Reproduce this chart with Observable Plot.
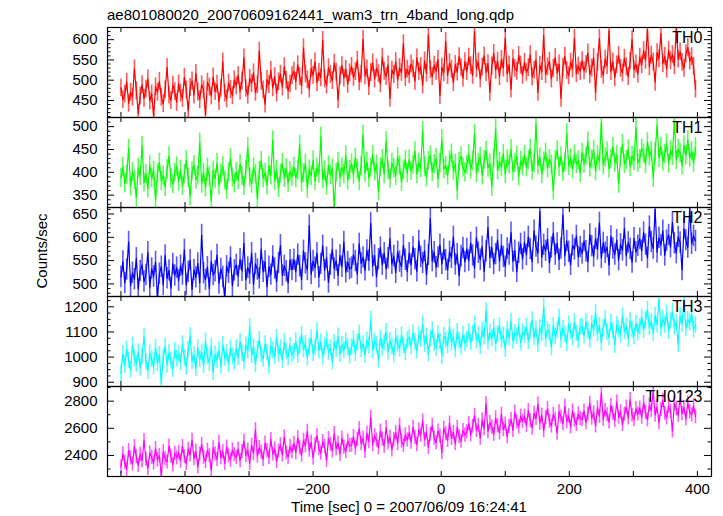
<!DOCTYPE html>
<html><head><meta charset="utf-8">
<script src="https://cdn.jsdelivr.net/npm/d3@7"></script>
<script src="https://cdn.jsdelivr.net/npm/@observablehq/plot@0.6"></script>
<style>
body{margin:0;background:#fff;}
#chart{position:relative;width:723px;height:516px;background:#fff;font-family:"Liberation Sans",Arial,Helvetica,sans-serif;}
#chart svg{position:absolute;left:0;overflow:visible;}
</style></head><body><div id="chart"></div>
<script>
const title = "ae801080020_20070609162441_wam3_trn_4band_long.qdp";
const xLabel = "Time [sec] 0 = 2007/06/09 16:24:41";
const yLabel = "Counts/sec";
const panelNames = ["TH0", "TH1", "TH2", "TH3", "TH0123"];
const panelColors = ["#ff0000", "#00ff00", "#0000ff", "#00ffff", "#ff00ff"];
const binStart = -500, binWidth = 3;

const th0 = [
481,452,466,495,443,470,458,528,474,418,461,489,455,478,503,449,466,412,484,470,497,458,442,476,531,463,450,488,472,445,
491,468,455,507,476,425,482,498,463,517,471,452,489,476,415,495,483,461,508,472,490,447,480,545,468,454,493,477,462,501,
486,512,473,498,555,480,463,505,492,518,470,488,572,497,476,441,502,489,524,481,509,468,496,515,483,533,500,474,491,511,
522,497,538,509,486,580,515,501,478,529,512,545,494,519,506,598,503,488,531,514,499,542,520,452,511,536,505,527,490,518,
534,507,521,549,496,515,601,511,528,484,519,543,503,530,516,491,557,522,509,538,455,525,514,546,500,531,519,590,506,527,
513,540,528,497,555,521,534,488,548,517,612,526,509,537,522,551,462,532,518,596,511,543,527,494,539,520,558,531,505,546,
521,557,536,512,620,528,545,503,533,560,519,541,470,535,566,524,547,509,551,530,604,516,538,478,553,529,522,561,537,512,
544,519,531,563,508,525,550,470,537,521,610,514,533,547,503,529,556,518,540,455,532,559,524,511,545,528,603,516,535,522,
548,523,539,567,514,530,556,470,543,603,527,512,552,536,622,521,545,506,538,561,529,518,554,533,509,547,600,526,540,515,
557,538,573,549,625,533,562,545,495,568,553,615,541,559,527,574,548,563,536,628,552,570,544,529,565,581,547,558,534,478
];
const th1 = [
388,412,376,395,452,369,401,384,345,409,392,458,378,396,365,415,387,403,340,398,421,381,393,368,407,435,386,374,399,413,
380,405,371,396,427,388,348,402,416,384,393,465,375,399,367,410,391,338,404,386,420,372,397,413,382,362,400,431,389,376,
401,383,418,392,370,406,455,389,375,411,396,342,403,425,387,399,372,414,393,470,381,405,366,397,420,388,409,377,402,390,
412,387,404,460,378,398,419,364,406,392,426,381,410,397,478,385,403,371,415,394,408,322,399,423,388,411,396,437,383,405,
419,395,432,407,381,414,482,399,423,388,410,438,402,417,358,411,429,396,468,405,386,421,409,392,433,415,379,406,427,398,
428,403,417,446,396,421,409,490,412,389,425,437,401,418,431,385,420,472,407,414,393,426,441,404,419,360,423,435,411,400,
416,439,407,425,484,398,421,434,393,427,447,410,419,368,431,495,405,423,412,440,396,428,417,451,402,420,436,391,425,413,
438,411,427,452,404,420,505,415,433,396,424,443,409,429,417,360,426,448,412,435,401,421,485,414,430,407,439,418,426,398,
443,419,435,468,411,428,449,402,437,424,508,416,432,446,408,429,455,421,438,375,433,462,418,427,450,412,436,425,498,420,
429,452,441,418,466,435,447,388,444,503,431,456,424,440,463,419,448,436,512,427,451,442,415,459,437,470,432,446,421,455
];
const th2 = [
515,548,502,531,590,496,524,510,555,489,528,541,505,519,568,493,533,516,547,470,522,537,498,561,512,529,491,543,518,535,
507,539,520,573,498,526,551,488,530,514,544,502,605,523,509,536,490,548,519,527,562,501,532,515,468,538,524,557,496,529,
541,516,553,528,587,509,535,522,566,499,543,531,512,575,526,548,494,537,520,559,533,505,545,583,518,539,527,502,551,530,
552,526,563,538,509,571,544,530,625,521,549,535,566,514,543,582,529,556,503,541,574,533,550,518,561,537,590,525,547,532,
535,563,549,521,586,544,557,529,572,550,630,538,561,515,553,578,541,566,532,555,597,543,560,524,569,548,537,583,552,527,
566,541,579,553,527,592,558,545,571,520,562,640,549,568,536,557,584,543,574,551,530,569,556,601,542,564,518,560,577,547,
575,550,588,561,534,599,567,552,580,527,570,621,556,578,543,564,594,549,583,558,537,576,563,610,548,571,526,567,586,553,
589,562,601,575,548,614,580,566,655,557,584,571,596,545,578,609,563,587,552,576,648,560,592,569,541,583,574,603,558,579,
565,592,570,547,606,581,559,597,574,631,556,588,567,579,540,602,576,563,594,551,585,572,619,560,589,575,546,598,568,582,
597,571,610,584,556,623,590,576,660,568,599,583,614,561,593,605,579,632,587,566,601,589,530,618,594,578,662,586,603,592
];
const th3 = [
935,1012,968,1031,987,949,1046,995,972,1020,958,1003,1080,981,944,1015,990,963,1038,976,1009,895,998,1043,969,1017,986,952,1025,993,
1013,978,1052,997,961,1029,1085,984,1008,955,1036,991,1019,968,1063,1002,976,1041,940,1011,988,1027,964,1049,995,1016,972,1034,1001,982,
1036,998,1061,1015,983,1048,1024,1120,1007,1040,971,1029,1069,1011,993,1052,1018,965,1044,1026,1003,1077,1013,1035,988,1058,1021,999,1046,1009,
1022,1064,1008,1047,1089,1030,1053,997,1041,1076,1015,1038,1105,1026,1059,1001,1044,1070,1019,1036,982,1057,1031,1083,1012,1049,1027,1066,1040,1005,
1039,1071,1015,1058,1094,1030,1052,1007,1066,1045,1150,1027,1062,1049,990,1075,1036,1057,1101,1021,1064,1043,1009,1080,1053,1032,1088,1047,1018,1068,
1078,1042,1096,1061,1025,1087,1070,1131,1051,1082,1013,1074,1108,1056,1035,1092,1063,1004,1085,1067,1046,1119,1058,1079,1029,1101,1066,1040,1089,1055,
1070,1102,1058,1093,1131,1066,1089,1044,1107,1081,1185,1062,1098,1075,1117,1053,1091,1124,1069,1086,1032,1110,1079,1142,1064,1096,1083,1120,1057,1100,
1087,1121,1063,1104,1147,1079,1111,1050,1116,1093,1200,1072,1108,1097,1038,1125,1083,1106,1158,1069,1114,1091,1055,1130,1101,1078,1139,1095,1066,1119,
1121,1085,1140,1104,1069,1132,1113,1176,1094,1125,1057,1116,1152,1099,1078,1137,1106,1048,1128,1111,1089,1163,1101,1122,1072,1145,1109,1083,1134,1097,
1122,1158,1107,1146,1189,1118,1141,1096,1165,1130,1230,1113,1152,1127,1174,1103,1144,1180,1121,1138,1050,1163,1132,1220,1115,1149,1136,1171,1109,1128
];
const th0123 = [
2315,2412,2350,2298,2436,2381,2337,2465,2390,2326,2408,2361,2510,2372,2305,2419,2386,2343,2451,2368,2399,2250,2427,2376,2352,2470,2395,2331,2416,2383,
2421,2358,2467,2392,2339,2445,2403,2512,2376,2430,2316,2409,2481,2387,2354,2438,2399,2291,2456,2412,2371,2497,2384,2427,2342,2462,2396,2365,2441,2406,
2385,2447,2362,2428,2506,2401,2439,2341,2475,2413,2590,2395,2458,2424,2370,2491,2436,2384,2518,2411,2449,2356,2432,2479,2403,2537,2420,2388,2465,2427,
2489,2421,2530,2456,2403,2511,2472,2578,2438,2497,2382,2479,2545,2451,2417,2503,2466,2364,2524,2483,2434,2562,2449,2492,2410,2528,2461,2428,2507,2473,
2476,2539,2454,2518,2597,2487,2526,2430,2563,2501,2680,2479,2545,2512,2458,2580,2521,2469,2606,2494,2534,2441,2517,2568,2488,2623,2505,2473,2552,2514,
2566,2498,2607,2533,2480,2588,2549,2655,2515,2574,2459,2556,2622,2528,2494,2580,2543,2420,2601,2560,2511,2639,2526,2569,2487,2605,2538,2505,2584,2550,
2573,2636,2551,2615,2694,2584,2623,2527,2660,2598,2780,2576,2642,2609,2555,2677,2618,2566,2703,2591,2631,2538,2614,2665,2585,2720,2647,2610,2689,2652,
2689,2621,2730,2656,2603,2711,2672,2778,2638,2697,2582,2679,2745,2651,2617,2703,2666,2564,2724,2683,2634,2762,2649,2692,2610,2728,2661,2628,2707,2673,
2664,2727,2642,2706,2785,2675,2714,2618,2751,2689,2860,2667,2733,2700,2646,2768,2709,2657,2794,2682,2722,2629,2705,2756,2676,2811,2696,2664,2743,2705,
2749,2681,2790,2716,2663,2771,2732,2870,2698,2757,2642,2739,2805,2711,2677,2763,2726,2580,2784,2743,2694,2822,2709,2752,2670,2788,2721,2698,2767,2685
];
const series = [th0, th1, th2, th3, th0123];
const errors = [22, 21, 23, 33, 52];

const xDomain = [-521, 422];
const xTickValues = [-500, -400, -300, -200, -100, 0, 100, 200, 300, 400];
const xTickLabels = [-400, -200, 0, 200, 400];
const yDomains = [[408, 630], [323, 520], [473, 664], [883, 1241], [2245, 2908]];
const yMajorTicks = [[450, 500, 550, 600], [350, 400, 450, 500], [500, 550, 600, 650], [900, 1000, 1100, 1200], [2400, 2600, 2800]];
const yMinorStep = [10, 10, 10, 25, 100];

// layout
const W = 723, H = 516, ML = 107, MR = 12, PW = W - ML - MR;
const panelTops = [27, 117, 207, 296, 386];
const panelHeights = [90, 90, 89, 90, 90];
const font = '"Liberation Sans", Arial, Helvetica, sans-serif';

const chart = document.getElementById("chart");

// overlay with titles
const ov = d3.create("svg").attr("width", W).attr("height", H).style("top", "0px")
  .style("font-family", font);
ov.append("text").attr("x", 107).attr("y", 20).attr("font-size", 15).attr("fill", "#000").text(title);
ov.append("text").attr("x", (ML + W - MR) / 2).attr("y", 512).attr("font-size", 15)
  .attr("text-anchor", "middle").attr("fill", "#000").text(xLabel);
ov.append("text").attr("transform", "translate(47,251) rotate(-90)").attr("font-size", 15)
  .attr("text-anchor", "middle").attr("fill", "#000").text(yLabel);
chart.appendChild(ov.node());

series.forEach((vals, i) => {
  const data = vals.map((v, k) => ({t: binStart + k * binWidth, v, lo: v - errors[i], hi: v + errors[i]}));
  const h = panelHeights[i];
  const last = i === series.length - 1;
  const step = yMinorStep[i];
  const [lo, hi] = yDomains[i];
  const minors = d3.range(Math.ceil(lo / step) * step, hi + 1e-9, step).filter(d => !yMajorTicks[i].includes(d));
  const color = panelColors[i];
  const svg = Plot.plot({
    width: W,
    height: h + (last ? 40 : 0),
    marginLeft: ML, marginRight: MR, marginTop: 0, marginBottom: last ? 40 : 0,
    style: {fontFamily: font, fontSize: "15px", overflow: "visible", background: "transparent", color: "#000"},
    x: {domain: xDomain, axis: null},
    y: {domain: yDomains[i], axis: null},
    marks: [
      Plot.ruleX(data, {x: "t", y1: "lo", y2: "hi", stroke: color, strokeOpacity: 0.65, strokeWidth: 1.6, clip: true}),
      Plot.lineY(data, {x: "t", y: "v", stroke: color, strokeWidth: 1.2, clip: true}),
      Plot.tickY(minors, {y: d => d, insetRight: PW - 3.5, stroke: "#000"}),
      Plot.tickY(minors, {y: d => d, insetLeft: PW - 3.5, stroke: "#000"}),
      Plot.tickY(yMajorTicks[i], {y: d => d, insetRight: PW - 7, stroke: "#000"}),
      Plot.tickY(yMajorTicks[i], {y: d => d, insetLeft: PW - 7, stroke: "#000"}),
      Plot.tickX(xTickValues, {x: d => d, insetBottom: h - 5, stroke: "#000"}),
      Plot.tickX(xTickValues, {x: d => d, insetTop: h - 5, stroke: "#000"}),
      Plot.axisY(yMajorTicks[i], {tickSize: 0, tickPadding: 10, fontSize: 15, label: null, tickFormat: d => String(d)}),
      last ? Plot.axisX(xTickLabels, {tickSize: 0, tickPadding: 7, fontSize: 15, label: null}) : null,
      Plot.frame({stroke: "#000", strokeWidth: 1.2}),
      Plot.text([panelNames[i]], {frameAnchor: "top-right", textAnchor: "end", lineAnchor: "top", dx: -9, dy: 4, fontSize: 16, fill: "#000"})
    ]
  });
  svg.style.top = panelTops[i] + "px";
  svg.style.left = "0px";
  chart.appendChild(svg);
});
</script></body></html>
